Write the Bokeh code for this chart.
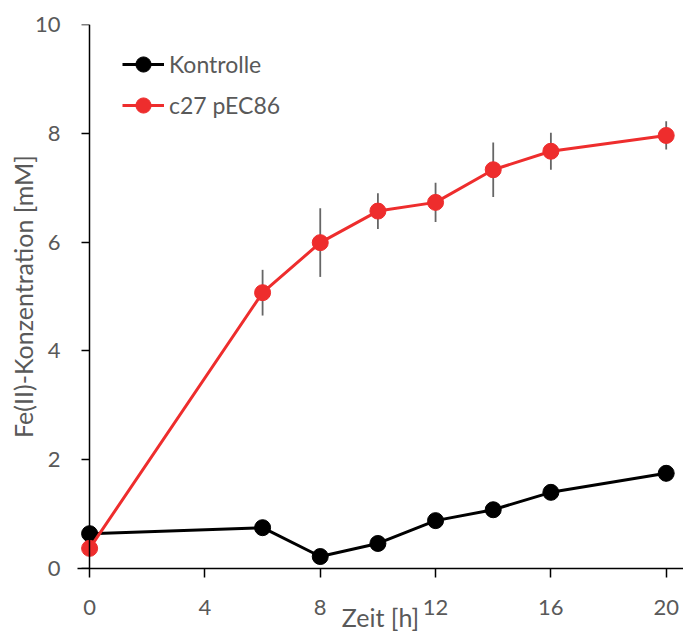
from bokeh.plotting import figure
from bokeh.models import Legend, LegendItem, Range1d, FixedTicker, ColumnDataSource, LinearAxis
from bokeh.embed import file_html
from bokeh.resources import INLINE

zeit = [0, 6, 8, 10, 12, 14, 16, 20]
kontrolle = [0.64, 0.75, 0.22, 0.46, 0.88, 1.08, 1.40, 1.75]
kontrolle_err = [0.05, 0.05, 0.04, 0.05, 0.06, 0.07, 0.07, 0.15]
c27 = [0.37, 5.07, 5.99, 6.57, 6.73, 7.33, 7.67, 7.96]
c27_err = [0.0, 0.42, 0.63, 0.33, 0.36, 0.50, 0.34, 0.26]
x_ticks = [0, 4, 8, 12, 16, 20]
y_ticks = [0, 2, 4, 6, 8, 10]

FONT = "Lato"
TXT = "#595959"
RED = "#EE2D2D"
ERR = "#666666"

p = figure(width=683, height=634, x_range=Range1d(-0.42, 20.6), y_range=Range1d(0, 10),
           output_backend="svg", toolbar_location=None,
           min_border_left=77, min_border_right=0, min_border_top=24, min_border_bottom=0)
p.grid.visible = False
p.outline_line_color = None
p.background_fill_color = "white"

def src(y, e):
    return ColumnDataSource(dict(x=zeit, y=y,
                                 lo=[a - b for a, b in zip(y, e)],
                                 hi=[a + b for a, b in zip(y, e)]))

sk = src(kontrolle, kontrolle_err)
sr = src(c27, c27_err)

p.segment(x0="x", y0="lo", x1="x", y1="hi", source=sk, line_color=ERR, line_width=1.8)
p.segment(x0="x", y0="lo", x1="x", y1="hi", source=sr, line_color=ERR, line_width=1.8)

lk = p.line("x", "y", source=sk, line_color="black", line_width=3)
mk = p.scatter("x", "y", source=sk, size=16, fill_color="black", line_color="black")
lr = p.line("x", "y", source=sr, line_color=RED, line_width=3)
mr = p.scatter("x", "y", source=sr, size=16, fill_color=RED, line_color=RED)

# second y axis carrying only labels, at the frame edge
ylab = LinearAxis()
p.add_layout(ylab, "left")

for ax, ticks in ((p.xaxis[0], x_ticks), (p.yaxis[0], y_ticks), (ylab, y_ticks)):
    ax.ticker = FixedTicker(ticks=ticks)
    ax.minor_tick_line_color = None
    ax.major_tick_in = 0
    ax.axis_line_color = "black"
    ax.axis_line_width = 1.5
    ax.major_tick_line_color = "black"
    ax.major_tick_line_width = 1.5
    ax.major_label_text_font = FONT
    ax.major_label_text_font_size = "22px"
    ax.major_label_text_color = TXT
    ax.axis_label_text_font = FONT
    ax.axis_label_text_font_size = "25px"
    ax.axis_label_text_color = TXT
    ax.axis_label_text_font_style = "normal"

p.xaxis.major_tick_out = 9
p.xaxis.major_label_standoff = 22
p.xaxis.axis_label = "Zeit [h]"
p.xaxis.axis_label_standoff = -16

yline = p.yaxis[0]
yline.fixed_location = 0
yline.major_tick_out = 8
yline.major_label_text_alpha = 0

ylab.axis_line_color = None
ylab.major_tick_line_color = None
ylab.major_tick_out = 0
ylab.major_label_standoff = 17
ylab.axis_label = "Fe(II)-Konzentration [mM]"
ylab.axis_label_standoff = -6

legend = Legend(items=[LegendItem(label="Kontrolle", renderers=[lk, mk]),
                       LegendItem(label="c27 pEC86", renderers=[lr, mr])],
                location=(45, 444), padding=0, spacing=3, margin=0,
                glyph_width=42, glyph_height=38, label_height=38, label_standoff=5,
                label_text_font=FONT, label_text_font_size="23px", label_text_color=TXT,
                border_line_alpha=0, background_fill_alpha=0)
p.add_layout(legend)

open("out.html", "w").write(file_html(p, INLINE))
